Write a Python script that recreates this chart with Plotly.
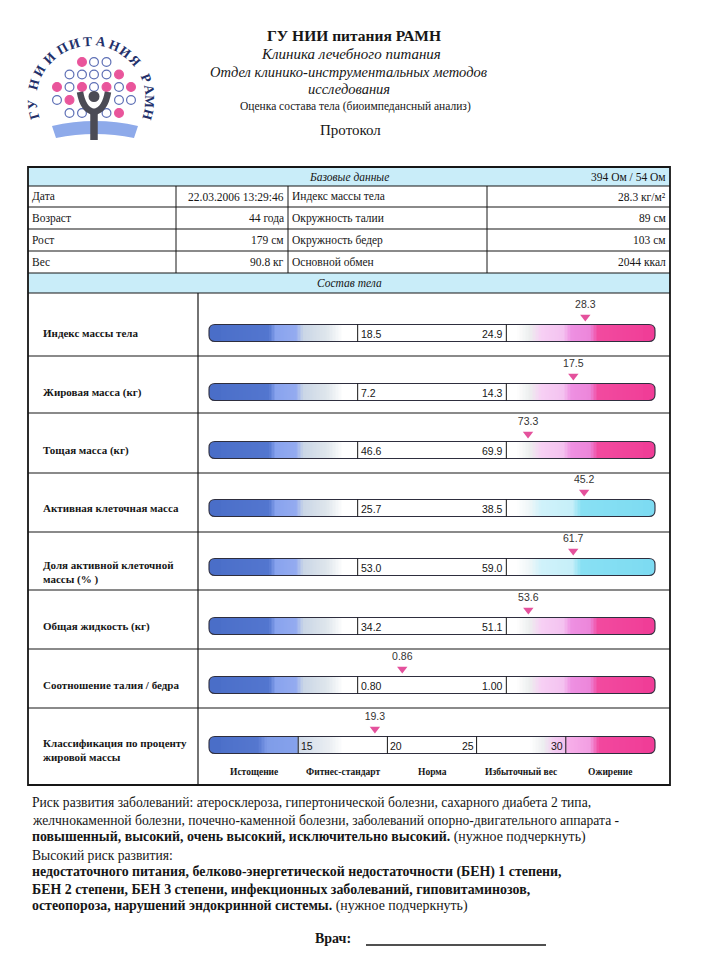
import numpy as np
import plotly.graph_objects as go

W, H = 701, 967

# ------------------------------------------------------------------ data
base_left_labels = ["Дата", "Возраст", "Рост", "Вес"]
base_left_values = ["22.03.2006 13:29:46", "44 года", "179 см", "90.8 кг"]
base_right_labels = ["Индекс массы тела", "Окружность талии", "Окружность бедер", "Основной обмен"]
base_right_values = ["28.3 кг/м²", "89 см", "103 см", "2044 ккал"]
impedance_text = "394 Ом / 54 Ом"

gauge_names = ["Индекс массы тела", "Жировая масса (кг)", "Тощая масса (кг)",
               "Активная клеточная масса", "Доля активной клеточной<br>массы (% )",
               "Общая жидкость (кг)", "Соотношение талия / бедра"]
gauge_low = [18.5, 7.2, 46.6, 25.7, 53.0, 34.2, 0.80]
gauge_high = [24.9, 14.3, 69.9, 38.5, 59.0, 51.1, 1.00]
gauge_value = [28.3, 17.5, 73.3, 45.2, 61.7, 53.6, 0.86]
gauge_low_text = ["18.5", "7.2", "46.6", "25.7", "53.0", "34.2", "0.80"]
gauge_high_text = ["24.9", "14.3", "69.9", "38.5", "59.0", "51.1", "1.00"]
gauge_value_text = ["28.3", "17.5", "73.3", "45.2", "61.7", "53.6", "0.86"]
gauge_palette = ["pink", "pink", "pink", "cyan", "cyan", "pink", "pink"]

class_name = "Классификация по проценту<br>жировой массы"
class_range = [10, 35]
class_bounds = [15, 20, 25, 30]
class_bound_text = ["15", "20", "25", "30"]
class_categories = ["Истощение", "Фитнес-стандарт", "Норма", "Избыточный вес", "Ожирение"]
fat_percent = 19.3
fat_percent_text = "19.3"

risk_lines = [
    "Риск развития заболеваний: атеросклероза, гипертонической болезни, сахарного диабета 2 типа,",
    "желчнокаменной болезни, почечно-каменной болезни, заболеваний опорно-двигательного аппарата -",
    "<b>повышенный, высокий, очень высокий, исключительно высокий.</b> (нужное подчеркнуть)",
    "Высокий риск развития:",
    "<b>недостаточного питания, белково-энергетической недостаточности (БЕН) 1 степени,</b>",
    "<b>БЕН 2 степени, БЕН 3 степени, инфекционных заболеваний, гиповитаминозов,</b>",
    "<b>остеопороза, нарушений эндокринной системы.</b> (нужное подчеркнуть)",
]

# ------------------------------------------------------------------ style
SERIF = "Liberation Serif, Times New Roman, serif"
SANS = "Liberation Sans, Arial, sans-serif"
INK = "#161616"
HEAD_BG = "#c9edf9"
BAR_X0, BAR_X1, BAR_HALF, BAR_R = 209, 655, 8.5, 6

PINK_SCALE = [[0.0, "#4a6ec8"], [0.135, "#5376cf"], [0.15, "#88a3ee"], [0.195, "#94abf0"],
              [0.212, "#cad6e6"], [0.265, "#dfe6ec"], [0.30, "#ffffff"], [0.69, "#ffffff"],
              [0.72, "#eceeee"], [0.745, "#f7d0f4"], [0.795, "#f4c2f0"], [0.812, "#ee90e2"],
              [0.855, "#ec86da"], [0.872, "#f24a9f"], [1.0, "#f03d97"]]
CYAN_SCALE = PINK_SCALE[:8] + [[0.72, "#eef6f8"], [0.745, "#d0f2fa"], [0.815, "#c6eff9"],
                               [0.835, "#88e0f3"], [1.0, "#7ddbf2"]]
CLASS_SCALE = [[0.0, "#4a6ec8"], [0.11, "#5577cf"], [0.13, "#7f9ce8"], [0.198, "#86a2ec"],
               [0.202, "#d2dcea"], [0.27, "#eaeef2"], [0.30, "#ffffff"], [0.72, "#ffffff"],
               [0.75, "#eceef0"], [0.775, "#f4cdf2"], [0.798, "#f2c2ee"], [0.802, "#f7b0ea"],
               [0.855, "#f29ee2"], [0.875, "#f2479e"], [1.0, "#f03d97"]]
END_COLORS = {"pink": "#f03d97", "cyan": "#7ddbf2", "class": "#f03d97"}
SCALES = {"pink": PINK_SCALE, "cyan": CYAN_SCALE, "class": CLASS_SCALE}

gauge_y = [333, 392, 450, 508, 567, 626, 685]
class_y = 745
label_dy = [0, 0, 0, 0, 5, 0, 0]

fig = go.Figure()
fig.add_trace(go.Scatter(x=[0], y=[0], mode="markers", marker=dict(opacity=0),
                         hoverinfo="skip", showlegend=False))
shapes = []
annots = []


def text(x, y, s, size=11.5, family=SERIF, xanchor="left", color=INK, angle=0,
         xref="x", yanchor="middle", align="left"):
    annots.append(dict(x=x, y=y, xref=xref, yref="y", text=s, showarrow=False,
                       xanchor=xanchor, yanchor=yanchor, textangle=angle, align=align,
                       font=dict(family=family, size=size, color=color), borderpad=0))


def line(x0, y0, x1, y1, w=1.0, color=INK, xref="x"):
    shapes.append(dict(type="line", x0=x0, y0=y0, x1=x1, y1=y1, xref=xref, yref="y",
                       line=dict(color=color, width=w), layer="above"))


def rect(x0, y0, x1, y1, fill, layer="below"):
    shapes.append(dict(type="rect", x0=x0, y0=y0, x1=x1, y1=y1, xref="x", yref="y",
                       fillcolor=fill, line=dict(width=0), layer=layer))


def path(d, fill=None, color=None, w=0, layer="above"):
    s = dict(type="path", path=d, xref="x", yref="y", layer=layer,
             line=dict(color=color or "rgba(0,0,0,0)", width=w))
    if fill:
        s["fillcolor"] = fill
    shapes.append(s)


def rrect(x0, y0, x1, y1, r):
    return (f"M{x0+r},{y0} L{x1-r},{y0} Q{x1},{y0} {x1},{y0+r} L{x1},{y1-r} "
            f"Q{x1},{y1} {x1-r},{y1} L{x0+r},{y1} Q{x0},{y1} {x0},{y1-r} "
            f"L{x0},{y0+r} Q{x0},{y0} {x0+r},{y0} Z")


# ------------------------------------------------------------------ header / logo
text(354, 35, "<b>ГУ НИИ питания РАМН</b>", size=15.5, xanchor="center")
text(351, 54, "<i>Клиника лечебного питания</i>", size=15, xanchor="center")
text(349, 72, "<i>Отдел клинико-инструментальных методов</i>", size=14.5, xanchor="center")
text(349, 89, "<i>исследования</i>", size=14.5, xanchor="center")
text(355, 106, "Оценка состава тела (биоимпедансный анализ)", size=11.5, xanchor="center")
text(350, 130, "Протокол", size=15, xanchor="center")

logo_letters = "ГУНИИПИТАНИЯРАМН"
logo_angles = [165, 176, 195, 210, 225, 241, 254, 267, 280, 293, 306, 318, 338, 350, 362, 375]
LCX, LCY, LR = 91, 100, 59
for ch, a in zip(logo_letters, logo_angles):
    t = np.deg2rad(a)
    text(LCX + LR * np.cos(t), LCY + LR * np.sin(t), f"<b>{ch}</b>", size=13.5,
         xanchor="center", color="#22306a", angle=a + 90)

dot_cols = [57, 69.5, 82, 94, 106.5, 119, 131]
dot_rows = [62, 74.5, 87, 100, 113]
dot_grid = ["..poo..", ".oooop.", "popopop", "op...oo", ".oo.op."]
for r, rowpat in enumerate(dot_grid):
    for c, ch in enumerate(rowpat):
        if ch == ".":
            continue
        x, y = dot_cols[c], dot_rows[r]
        shapes.append(dict(type="circle", xref="x", yref="y", x0=x - 4.4, x1=x + 4.4,
                           y0=y - 4.4, y1=y + 4.4,
                           fillcolor="#e9559b" if ch == "p" else "white",
                           line=dict(color="#e9559b" if ch == "p" else "#5d6fb5", width=1.2)))
path("M52,126 Q95,116 138,126 L134,138 Q95,130 56,138 Z", fill="#8eaaea")
path("M80,92 Q83,110 94,112 Q105,110 108,92", color="#4b4b55", w=6.5)
path("M94,110 L94,140", color="#4b4b55", w=7.5)
shapes.append(dict(type="circle", xref="x", yref="y", x0=88.5, x1=99.5, y0=91, y1=102,
                   fillcolor="#4b4b55", line=dict(width=0)))

# ------------------------------------------------------------------ base data table
TL, TR, TT, TB = 28, 670, 167, 785
rows_y = [186, 207, 229, 251, 273]
rect(TL, TT, TR, rows_y[0], HEAD_BG)
rect(TL, rows_y[-1], TR, 293, HEAD_BG)
text((TL + TR) / 2, (TT + rows_y[0]) / 2, "<i>Базовые данные</i>", size=11.5, xanchor="center")
text(TR - 3, (TT + rows_y[0]) / 2, impedance_text, size=11.5, xanchor="right")
for i in range(4):
    yc = (rows_y[i] + rows_y[i + 1]) / 2
    text(31, yc, base_left_labels[i])
    text(285, yc, base_left_values[i], xanchor="right")
    text(291, yc, base_right_labels[i])
    text(TR - 3, yc, base_right_values[i], xanchor="right")
text((TL + TR) / 2, (rows_y[-1] + 293) / 2, "<i>Состав тела</i>", size=11.5, xanchor="center")
for y in rows_y + [293]:
    line(TL, y, TR, y, 1.2)
for x in [176, 288, 487]:
    line(x, rows_y[0], x, rows_y[-1], 1.0)
for y in [356, 413, 473, 532, 590, 649, 708]:
    line(TL, y, TR, y, 1.2)
line(198, 293, 198, TB, 1.2)
shapes.append(dict(type="rect", x0=TL, y0=TT, x1=TR, y1=TB, xref="x", yref="y",
                   line=dict(color=INK, width=1.8), layer="above"))


# ------------------------------------------------------------------ gauges
def draw_bar(ax, lo_edge, hi_edge, yc, palette):
    span = hi_edge - lo_edge
    edges = np.linspace(lo_edge + 0.012 * span, lo_edge + 0.988 * span, 301)
    centers = (edges[:-1] + edges[1:]) / 2
    frac = (centers - lo_edge) / span
    fig.add_trace(go.Heatmap(x=edges, y=[yc - BAR_HALF, yc + BAR_HALF], z=[frac],
                             xaxis=ax, yaxis="y", colorscale=SCALES[palette], zmin=0, zmax=1,
                             showscale=False, hoverinfo="skip", zsmooth=False))
    y0, y1, r = yc - BAR_HALF, yc + BAR_HALF, BAR_R
    xa, xb = BAR_X0, BAR_X1
    path(f"M{xa+r},{y0} L{xa+12},{y0} L{xa+12},{y1} L{xa+r},{y1} Q{xa},{y1} {xa},{y1-r} "
         f"L{xa},{y0+r} Q{xa},{y0} {xa+r},{y0} Z", fill="#4a6ec8")
    path(f"M{xb-r},{y0} L{xb-12},{y0} L{xb-12},{y1} L{xb-r},{y1} Q{xb},{y1} {xb},{y1-r} "
         f"L{xb},{y0+r} Q{xb},{y0} {xb-r},{y0} Z", fill=END_COLORS[palette])
    path(rrect(xa, y0, xb, y1, r), color="#2e2e3e", w=1.1)


def draw_marker(ax, v, s, yc):
    fig.add_trace(go.Scatter(x=[v], y=[yc - 16], xaxis=ax, yaxis="y", mode="markers+text",
                             text=[s], textposition="top center",
                             textfont=dict(family=SANS, size=10.5, color="#333"),
                             marker=dict(symbol="triangle-down", size=9, color="#e4519c"),
                             hoverinfo="skip", showlegend=False, cliponaxis=False))


axes_layout = {}
for i in range(len(gauge_names)):
    k = i + 2
    ax = f"x{k}"
    lo, hi = gauge_low[i], gauge_high[i]
    d = hi - lo
    axes_layout[f"xaxis{k}"] = dict(domain=[BAR_X0 / W, BAR_X1 / W], range=[lo - d, hi + d],
                                    visible=False, anchor="y", fixedrange=True)
    yc = gauge_y[i]
    draw_bar(ax, lo - d, hi + d, yc, gauge_palette[i])
    line(lo, yc - BAR_HALF, lo, yc + BAR_HALF, 1.0, xref=ax)
    line(hi, yc - BAR_HALF, hi, yc + BAR_HALF, 1.0, xref=ax)
    text(lo, yc + 0.5, gauge_low_text[i], size=10.5, family=SANS, xanchor="left", xref=ax)
    text(hi, yc + 0.5, gauge_high_text[i], size=10.5, family=SANS, xanchor="right", xref=ax)
    annots[-2]["xshift"] = 2
    annots[-1]["xshift"] = -2
    draw_marker(ax, gauge_value[i], gauge_value_text[i], yc)
    text(42, yc + label_dy[i], f"<b>{gauge_names[i]}</b>", size=11)

# classification gauge
k = len(gauge_names) + 2
ax = f"x{k}"
axes_layout[f"xaxis{k}"] = dict(domain=[BAR_X0 / W, BAR_X1 / W], range=class_range,
                                visible=False, anchor="y", fixedrange=True)
draw_bar(ax, class_range[0], class_range[1], class_y, "class")
for j, (b, s) in enumerate(zip(class_bounds, class_bound_text)):
    line(b, class_y - BAR_HALF, b, class_y + BAR_HALF, 1.0, xref=ax)
    side = "left" if j < 2 else "right"
    text(b, class_y + 0.5, s, size=10.5, family=SANS, xanchor=side, xref=ax)
    annots[-1]["xshift"] = 2 if side == "left" else -2
edges = [class_range[0]] + class_bounds + [class_range[1]]
for j, name in enumerate(class_categories):
    text((edges[j] + edges[j + 1]) / 2, 772, f"<b>{name}</b>", size=9.5, xanchor="center", xref=ax)
draw_marker(ax, fat_percent, fat_percent_text, class_y)
text(42, class_y + 5, f"<b>{class_name}</b>", size=11)

# ------------------------------------------------------------------ footer text
risk_y = [802, 820, 837, 855, 872, 889, 906]
risk_size = [13.6, 13.6, 13.9, 13.6, 13.9, 13.9, 13.9]
for s, y, fs in zip(risk_lines, risk_y, risk_size):
    text(31, y, s, size=fs)
text(352, 938, "<b>Врач:</b>", size=14, xanchor="right")
line(366, 945, 546, 945, 1.3)

fig.update_layout(
    width=W, height=H, margin=dict(l=0, r=0, t=0, b=0),
    paper_bgcolor="white", plot_bgcolor="rgba(0,0,0,0)", showlegend=False,
    xaxis=dict(range=[0, W], domain=[0, 1], visible=False, fixedrange=True),
    yaxis=dict(range=[H, 0], domain=[0, 1], visible=False, fixedrange=True),
    shapes=shapes, annotations=annots, **axes_layout,
)
fig.write_html("out.html", config={"displayModeBar": False, "staticPlot": True},
               post_script="document.body.style.margin='0';"
                           "document.body.style.overflow='hidden';")
